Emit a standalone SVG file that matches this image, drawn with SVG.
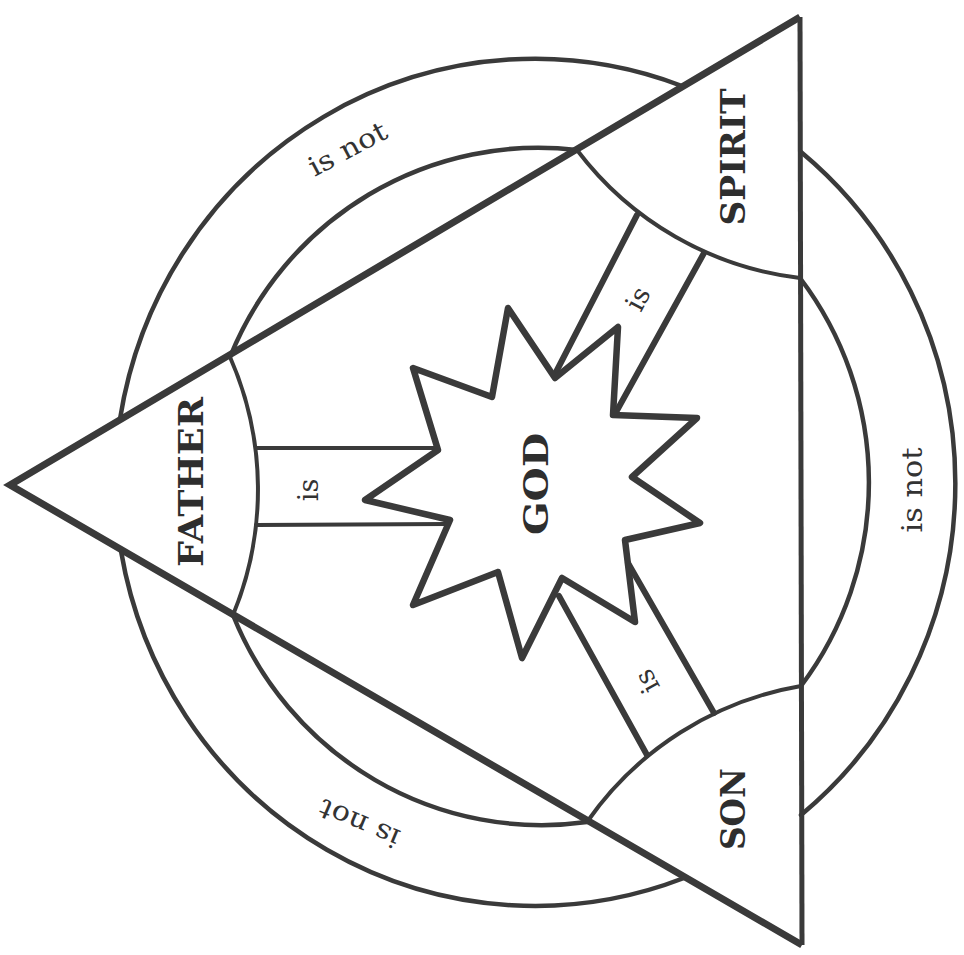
<svg xmlns="http://www.w3.org/2000/svg" width="964" height="955" viewBox="0 0 964 955">
<style>
.ln{fill:none;stroke:#3a3a3a;stroke-linecap:round;stroke-linejoin:round}
.ring{stroke-width:4.5}
.varc{stroke-width:4}
.bar{stroke-width:6}
.bar-thin{stroke-width:4}
.name{font-family:"DejaVu Serif","Liberation Serif",serif;font-weight:bold;fill:#2e2e2e;text-anchor:middle}
.lbl{font-family:"DejaVu Serif","Liberation Serif",serif;font-size:27px;fill:#333;text-anchor:middle}
</style>
<rect width="964" height="955" fill="#ffffff"/>
<g id="shield">
  <polygon points="10,485 800,17 802,945" fill="#fff" stroke="none"/>
  <polyline points="800,17 802,945" fill="none" stroke="#3a3a3a" stroke-width="5" stroke-linejoin="miter"/>
  <polyline points="800,17 10,485 802,945" fill="none" stroke="#3a3a3a" stroke-width="7" stroke-linejoin="miter" stroke-miterlimit="10"/>
</g>
<g id="connectors">
  <path class="ln ring" d="M120,419 A420,428 0 0 1 682,86"/>
  <path class="ln ring" d="M801,152 A420,428 0 0 1 801,815"/>
  <path class="ln ring" d="M684,878 A420,428 0 0 1 121,551"/>
  <path class="ln ring" d="M230,357 A333,336 0 0 1 577,150"/>
  <path class="ln ring" d="M800,278 A333,336 0 0 1 801,686"/>
  <path class="ln ring" d="M587,822 A333,336 0 0 1 233,615"/>
  <line class="ln bar-thin" x1="256" y1="448" x2="438" y2="448"/>
  <line class="ln bar-thin" x1="256" y1="525" x2="448" y2="524"/>
  <line class="ln bar" x1="637" y1="215" x2="555" y2="374"/>
  <line class="ln bar" x1="704" y1="253" x2="615" y2="414"/>
  <line class="ln bar" x1="559" y1="596" x2="647" y2="755"/>
  <line class="ln bar" x1="628" y1="563" x2="714" y2="713"/>
  <text class="lbl" transform="translate(318,490) rotate(-90)">is</text>
  <text class="lbl" transform="translate(646,303) rotate(-62)">is</text>
  <text class="lbl" transform="translate(655,677) rotate(-119)">is</text>
  <text class="lbl" transform="translate(352,157) rotate(-28)" textLength="85" lengthAdjust="spacingAndGlyphs">is not</text>
  <text class="lbl" transform="translate(922,490) rotate(-90)" textLength="85" lengthAdjust="spacingAndGlyphs">is not</text>
  <text class="lbl" transform="translate(363,815) rotate(-157)" textLength="85" lengthAdjust="spacingAndGlyphs">is not</text>
</g>
<g id="father">
  <path class="ln varc" d="M230,357 A328,328 0 0 1 233,615"/>
  <text class="name" font-size="34" transform="translate(203,482) rotate(-90)" textLength="170" lengthAdjust="spacingAndGlyphs">FATHER</text>
</g>
<g id="spirit">
  <path class="ln varc" d="M800,278 A328,328 0 0 1 577,150"/>
  <text class="name" font-size="34" transform="translate(745,157) rotate(-90)" textLength="137" lengthAdjust="spacingAndGlyphs">SPIRIT</text>
</g>
<g id="son">
  <path class="ln varc" d="M587,822 A328,328 0 0 1 801,686"/>
  <text class="name" font-size="34" transform="translate(745,809) rotate(-90)" textLength="82" lengthAdjust="spacingAndGlyphs">SON</text>
</g>
<g id="god">
  <polygon class="ln" stroke-width="6.5" stroke-linejoin="miter" fill="#fff" points="508,308 555,378 618,327 613,415 697,418 632,477 700,523 625,540 635,622 562,578 522,658 498,572 413,605 450,520 365,500 438,450 413,368 492,397"/>
  <text class="name" font-size="33" transform="translate(548,484) rotate(-90)" textLength="102" lengthAdjust="spacingAndGlyphs">GOD</text>
</g>
</svg>
